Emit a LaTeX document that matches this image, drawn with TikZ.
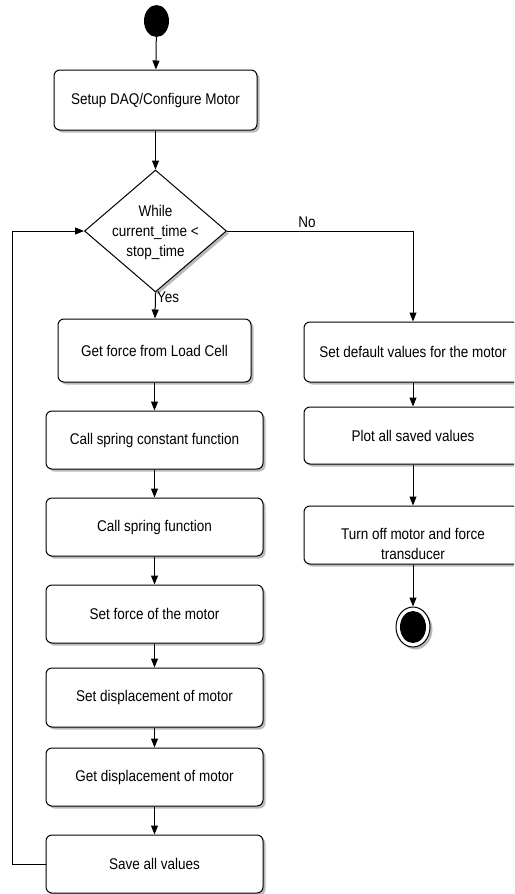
\documentclass[tikz,border=0pt]{standalone}
\usepackage{fontspec}
\setmainfont{Liberation Sans}[FakeStretch=0.87]
\usetikzlibrary{shapes.geometric,shadows,arrows.meta}
\begin{document}
\begin{tikzpicture}[x=1pt,y=-1pt,
  font=\fontsize{15.5}{20}\selectfont,
  shad/.style={drop shadow={shadow xshift=2.5pt,shadow yshift=-2.5pt,fill=black!45,opacity=.6}},
  box/.style={draw,line width=1pt,rounded corners=6pt,fill=white,shad,align=center,inner sep=2pt},
  arr/.style={draw,line width=1pt,-{Triangle[length=9pt,width=7pt]}},
  lbl/.style={inner sep=0pt}]
\useasboundingbox (0,0) rectangle (514,894);
\clip (0,0) rectangle (514,894);
% start
\node (start) [ellipse,fill=black,minimum width=25pt,minimum height=32pt,inner sep=0pt] at (156.5,21) {};
\node (setup) [box,minimum width=203pt,minimum height=60pt] at (155.5,100) {Setup DAQ/Configure Motor};
% decision
\node (dec) [diamond,draw,line width=1pt,fill=white,shad,minimum width=142pt,minimum height=122pt,inner sep=0pt] at (155.5,231) {};
\node (dectxt) [align=center,inner sep=0pt] at (155.5,232) {While\\current\_time <\\stop\_time};
% left column
\node (getforce) [box,minimum width=193pt,minimum height=63pt] at (154.5,350.5) {Get force from Load Cell};
\node (springk) [box,minimum width=217pt,minimum height=58pt] at (154.5,440) {Call spring constant function};
\node (spring) [box,minimum width=217pt,minimum height=58pt] at (154.5,527) {Call spring function};
\node (setforce) [box,minimum width=217pt,minimum height=58pt] at (154.5,614) {Set force of the motor};
\node (setdisp) [box,minimum width=217pt,minimum height=59pt] at (154.5,697.5) {Set displacement of motor};
\node (getdisp) [box,minimum width=217pt,minimum height=58pt] at (154.5,777) {Get displacement of motor};
\node (save) [box,minimum width=217pt,minimum height=58pt] at (154.5,864) {Save all values};
% right column
\node (setdef) [box,minimum width=218pt,minimum height=60pt] at (413,352) {Set default values for the motor};
\node (plot) [box,minimum width=218pt,minimum height=57pt] at (413,435.5) {Plot all saved values};
\node (turnoff) [box,minimum width=218pt,minimum height=58pt] at (413,535) {};
\node (turnofftxt) [align=center,inner sep=0pt] at (413,544) {Turn off motor and force\\transducer};
% end
\node (endo) [ellipse,draw,line width=1pt,fill=white,shad,minimum width=34pt,minimum height=40pt,inner sep=0pt] at (413,627) {};
\node (endi) [ellipse,fill=black,minimum width=26pt,minimum height=32pt,inner sep=0pt] at (413,627) {};
% connectors
\draw[arr] (start) -- (setup);
\draw[arr] (setup) -- (dec.north);
\draw[arr] (dec.south) -- (getforce);
\node (yes) [lbl,anchor=west] at (157,297) {Yes};
\draw[arr] (getforce) -- (springk);
\draw[arr] (springk) -- (spring);
\draw[arr] (spring) -- (setforce);
\draw[arr] (setforce) -- (setdisp);
\draw[arr] (setdisp) -- (getdisp);
\draw[arr] (getdisp) -- (save);
\coordinate (loopc) at (12.5,864);
\draw[arr] (save.west) -- (loopc) |- (dec.west);
\draw[arr] (dec.east) -| (setdef.north);
\node (no) [lbl] at (307,222) {No};
\draw[arr] (setdef) -- (plot);
\draw[arr] (plot) -- (turnoff);
\draw[arr] (turnoff) -- (endo);
\end{tikzpicture}
\end{document}
